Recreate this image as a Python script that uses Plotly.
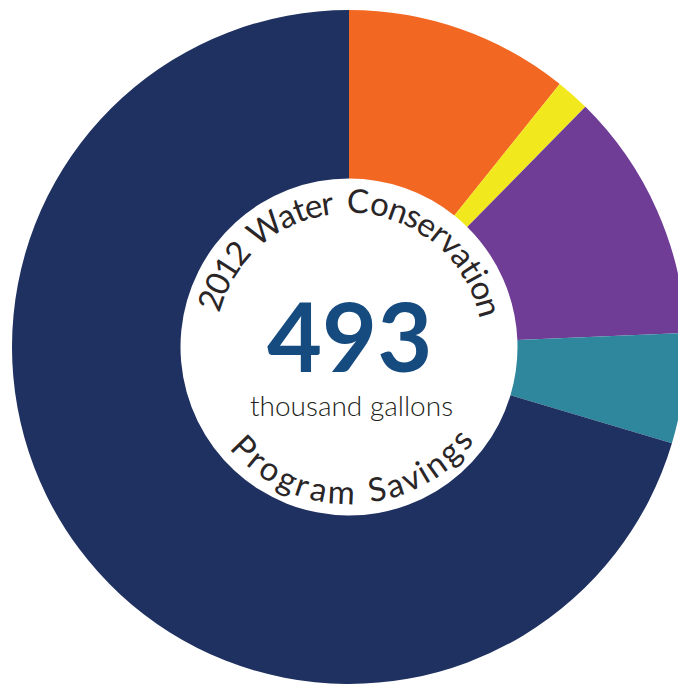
import math
import plotly.graph_objects as go

# ---- data ----
labels = ["Program A", "Program B", "Program C", "Program D", "Program E"]
values = [53, 8, 59, 26, 347]          # thousand gallons
colors = ["#F26722", "#F2E81E", "#6F3C96", "#2E879C", "#1F3160"]
total_label = "493"
unit_label = "thousand gallons"
arc_top = "2012 Water Conservation"
arc_bottom = "Program Savings"

W, H = 700, 684          # figure is a bit wider than the window so the ring is clipped on the right
CX, CY, R = 349, 347, 337
FONT = "Lato, 'Open Sans', sans-serif"

fig = go.Figure(go.Pie(
    labels=labels, values=values, hole=0.5, sort=False,
    direction="clockwise", rotation=0,
    marker=dict(colors=colors, line=dict(width=0)),
    textinfo="none", hoverinfo="label+value",
    domain=dict(x=[(CX - R) / W, (CX + R) / W], y=[(H - CY - R) / H, (H - CY + R) / H]),
    showlegend=False,
))

# approximate advance widths (em) for spacing letters along the arcs
adv = {"0": .56, "1": .56, "2": .56, " ": .36, "W": .95, "a": .55, "t": .36, "e": .53,
       "r": .39, "C": .78, "o": .60, "n": .55, "s": .48, "v": .52, "i": .26, "P": .60,
       "g": .58, "m": .85, "S": .52}


def centers(text):
    out, s = [], 0.0
    for ch in text:
        w = adv.get(ch, .5)
        out.append(s + w / 2)
        s += w
    return out


def place_arc(text, a0, a1, radius, bottom):
    c = centers(text)
    for ch, p in zip(text, c):
        if ch == " ":
            continue
        t = a0 + (p - c[0]) / (c[-1] - c[0]) * (a1 - a0)
        rad = math.radians(t)
        px = CX + radius * math.sin(rad)
        py = CY - radius * math.cos(rad)
        fig.add_annotation(
            x=px / W, y=1 - py / H, xref="paper", yref="paper",
            text=ch, showarrow=False, xanchor="center", yanchor="middle",
            textangle=(t - 180) if bottom else t,
            font=dict(family=FONT, size=33, color="#2A2627"),
        )


place_arc(arc_top, -71.3, 74.1, 147, False)
place_arc(arc_bottom, 226.0, 129.4, 144, True)

fig.add_annotation(x=CX / W, y=1 - 335 / H, xref="paper", yref="paper", text=f"<b>{total_label}</b>",
                   showarrow=False, xanchor="center", yanchor="middle",
                   font=dict(family=FONT, size=95, color="#164B7F"))
fig.add_annotation(x=351 / W, y=1 - 405 / H, xref="paper", yref="paper", text=unit_label,
                   showarrow=False, xanchor="center", yanchor="middle",
                   font=dict(family=FONT, size=28, color="#231F20", weight=300))

fig.update_layout(width=W, height=H, margin=dict(l=0, r=0, t=0, b=0),
                  paper_bgcolor="white", plot_bgcolor="white")

fig.write_html("out.html", config={"displayModeBar": False},
               post_script="document.documentElement.style.overflow='hidden';document.body.style.margin='0';document.body.style.overflow='hidden';")
